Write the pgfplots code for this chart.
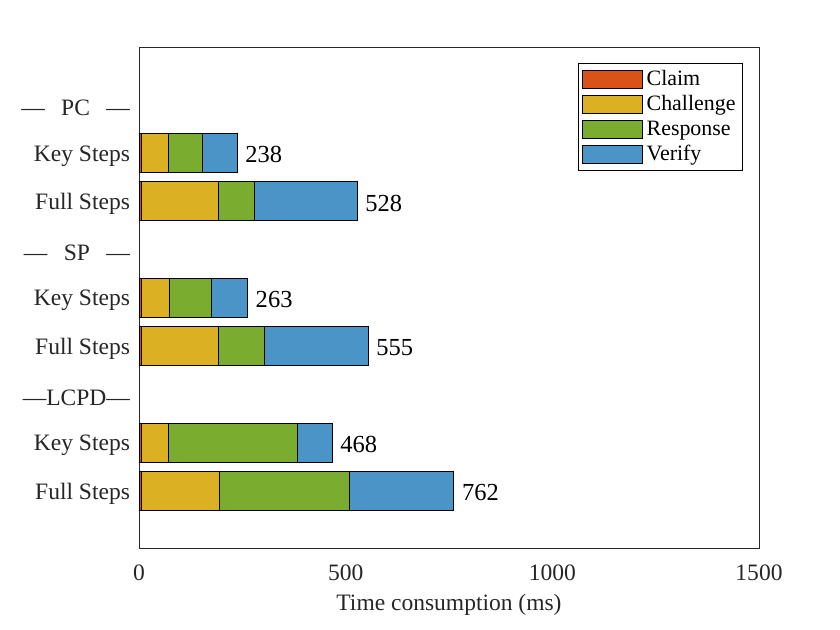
\documentclass[border=0pt]{standalone}
\usepackage{fontspec}
\setmainfont{Liberation Serif}
\usepackage{pgfplots}
\usepackage{pgfplotstable}
\pgfplotsset{compat=1.18}

\definecolor{claimc}{HTML}{D95319}
\definecolor{chalc}{HTML}{DBB022}
\definecolor{respc}{HTML}{7AAD2F}
\definecolor{verc}{HTML}{4B94C8}
\definecolor{axgray}{HTML}{262626}

% rows: 1 = PC header, 4 = SP header, 7 = LCPD header
\pgfplotstableread{
pos claim challenge response verify total
2 7 65 82 84 238
3 7 186 87 248 528
5 7 67 102 87 263
6 7 186 111 251 555
8 7 65 312 84 468
9 7 188 315 252 762
}\timedata

\pgfplotsset{frame/.style={
    at={(0,0)}, anchor=south west,
    scale only axis, width=310bp, height=250.5bp,
    y dir=reverse,
    xmin=0, xmax=1500, ymin=-0.19, ymax=10.18,
    /pgf/number format/assume math mode=true,
    /pgf/number format/1000 sep={}}}

\begin{document}
\begin{tikzpicture}[font=\fontsize{11.8}{14}\selectfont]
\begin{axis}[
    frame,
    xbar stacked, bar width=0.8,
    xtick={0,500,1000,1500},
    ytick={1,...,9},
    yticklabels={{—\hspace{0.7em}PC\hspace{0.7em}—}, Key Steps, Full Steps,
                 {—\hspace{0.7em}SP\hspace{0.7em}—}, Key Steps, Full Steps,
                 {—LCPD—}, Key Steps, Full Steps},
    major tick length=0,
    axis line style={axgray, line width=0.5pt},
    tick label style={text=axgray},
    xticklabel style={yshift=-5bp},
    yticklabel style={xshift=-1bp, yshift=-1.5bp},
    xlabel={Time consumption (ms)},
    xlabel style={text=axgray, yshift=0bp},
    legend style={at={(1,1)}, anchor=north east, xshift=-8bp, yshift=-8bp,
        draw=black, line width=0.5pt, inner sep=1.5bp, row sep=-0.5bp,
        cells={anchor=west}, font=\fontsize{11}{13}\selectfont},
    legend image code/.code={\draw[#1, draw=black, line width=0.5pt] (0bp,-4.5bp) rectangle (30bp,4.5bp);},
]
\addplot[fill=claimc, draw=black, line width=0.5pt] table[x=claim, y=pos] {\timedata};
\addlegendentry{Claim}
\addplot[fill=chalc, draw=black, line width=0.5pt] table[x=challenge, y=pos] {\timedata};
\addlegendentry{Challenge}
\addplot[fill=respc, draw=black, line width=0.5pt] table[x=response, y=pos] {\timedata};
\addlegendentry{Response}
\addplot[fill=verc, draw=black, line width=0.5pt] table[x=verify, y=pos] {\timedata};
\addlegendentry{Verify}
\end{axis}
% totals at the end of each bar
\begin{axis}[frame, hide axis]
\addplot[only marks, mark=none, nodes near coords, point meta=explicit,
    nodes near coords style={text=black, anchor=west, xshift=0.5bp, yshift=-1bp,
        font=\fontsize{12.3}{14}\selectfont}]
    table[x=total, y=pos, meta=total] {\timedata};
\end{axis}
\path (-69.5bp,-41bp) rectangle (350.5bp,274bp);
\end{tikzpicture}
\end{document}
